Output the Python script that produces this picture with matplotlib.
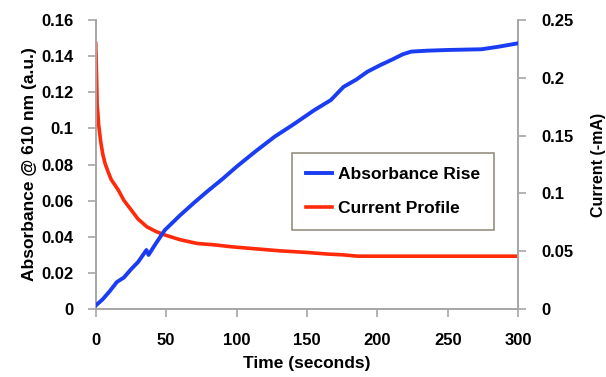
import matplotlib.pyplot as plt

plt.rcParams['font.family'] = ['Liberation Sans', 'DejaVu Sans']
plt.rcParams['font.weight'] = 'bold'

# absorbance at 610 nm (left axis)
abs_time = [0, 5, 10, 15, 20, 25, 30, 36, 37.5, 42, 49, 60, 70, 79, 90, 100, 113, 127,
            140, 155, 167, 176, 185, 193, 202, 210, 218, 224, 235, 250, 262, 274, 286, 300]
abs_val = [0.002, 0.0055, 0.010, 0.0150, 0.0175, 0.0220, 0.0260, 0.0327, 0.0300, 0.0355,
           0.0437, 0.052, 0.0590, 0.0650, 0.0720, 0.0788, 0.0870, 0.0954, 0.1020, 0.1100,
           0.1157, 0.1230, 0.1270, 0.1314, 0.1350, 0.1379, 0.1410, 0.1425, 0.1430, 0.1434,
           0.1436, 0.1438, 0.1452, 0.1471]

# current (right axis)
cur_time = [0, 0.3, 0.6, 1.0, 1.5, 2, 3.5, 5, 6.6, 9, 11, 16, 20, 24.4, 30, 36.3, 43, 49.4,
            60, 72, 85, 95.7, 110, 131, 150, 165, 175, 186, 200, 250, 300]
cur_val = [0.2298, 0.215, 0.200, 0.176, 0.170, 0.160, 0.145, 0.134, 0.126, 0.118, 0.112,
           0.103, 0.094, 0.087, 0.078, 0.0712, 0.067, 0.0640, 0.0600, 0.0568, 0.0555,
           0.0540, 0.0525, 0.0504, 0.0490, 0.0476, 0.0470, 0.0458, 0.0458, 0.0458, 0.0458]

blue = '#1a3cf2'
red = '#ff2a0a'
gray = '#a6a6a6'

fig = plt.figure(figsize=(6.06, 3.77), dpi=100)
ax = fig.add_axes([0.158, 0.180, 0.697, 0.767])
ax2 = ax.twinx()

l1, = ax.plot(abs_time, abs_val, color=blue, lw=2.8, label='Absorbance Rise', zorder=3)
l2, = ax2.plot(cur_time, cur_val, color=red, lw=2.6, label='Current Profile')

ax.set_xlim(0, 300)
ax.set_ylim(0, 0.16)
ax2.set_ylim(0, 0.25)
ax.set_xticks(range(0, 301, 50))
ax.set_yticks([0, 0.02, 0.04, 0.06, 0.08, 0.1, 0.12, 0.14, 0.16])
ax.set_yticklabels(['0', '0.02', '0.04', '0.06', '0.08', '0.1', '0.12', '0.14', '0.16'])
ax2.set_yticks([0, 0.05, 0.1, 0.15, 0.2, 0.25])
ax2.set_yticklabels(['0', '0.05', '0.1', '0.15', '0.2', '0.25'])

for a in (ax, ax2):
    a.spines['top'].set_visible(False)
    for s in ('left', 'right', 'bottom'):
        a.spines[s].set_color(gray)
        a.spines[s].set_linewidth(1.2)
    a.tick_params(colors=gray, labelcolor='black', labelsize=12, width=1.2, length=6)
ax.tick_params(axis='x', pad=11)
ax.tick_params(axis='y', pad=10)
ax2.tick_params(axis='y', pad=11)

ax.set_xlabel('Time (seconds)', fontsize=12.5, fontweight='bold', labelpad=6)
ax.set_ylabel('Absorbance @ 610 nm (a.u.)', fontsize=12.5, fontweight='bold', labelpad=3)
ax2.set_ylabel('Current (-mA)', fontsize=11.5, fontweight='bold', labelpad=12)

ax.set_zorder(ax2.get_zorder() + 1)
ax.patch.set_visible(False)

leg = ax.legend(handles=[l1, l2], loc='upper left', bbox_to_anchor=(0.445, 0.57),
                fontsize=12.5, frameon=True, fancybox=False, handlelength=1.5,
                handletextpad=0.3, labelspacing=1.1, borderpad=0.8)
leg.get_frame().set_edgecolor('#7a7462')
leg.get_frame().set_linewidth(1.2)

plt.savefig('out.png', dpi=100)
